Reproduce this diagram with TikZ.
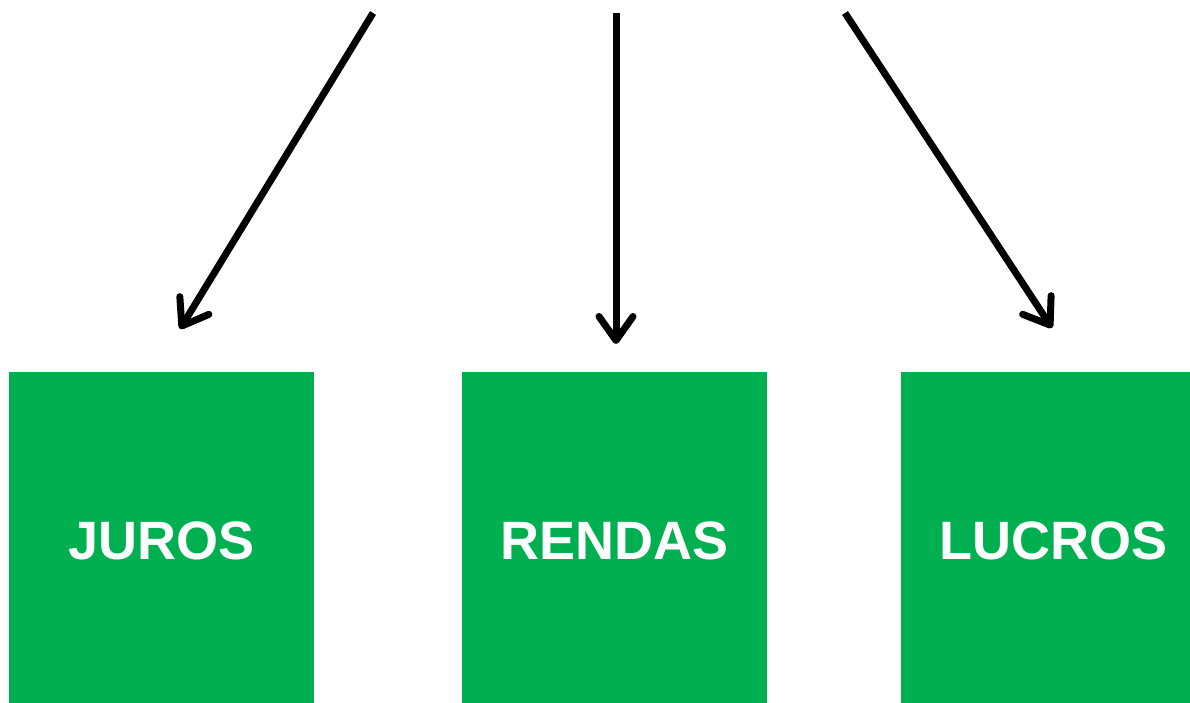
\documentclass[tikz,border=0pt]{standalone}
\usepackage{fontspec}
\setmainfont{Liberation Sans}
\usetikzlibrary{arrows.meta}
\definecolor{boxgreen}{HTML}{00B050}
\begin{document}
\begin{tikzpicture}[x=1pt,y=-1pt,
  box/.style={fill=boxgreen, draw=none, minimum width=305pt, minimum height=338pt, inner sep=0pt,
    text=white, font=\fontsize{54}{60}\selectfont\bfseries},
  arr/.style={line width=7pt, -{Straight Barb[length=24pt, width=34pt, line cap=round, line join=round]}}]
\useasboundingbox (0,0) rectangle (1190,703);
\node[box] (juros) at (161.5,541) {JUROS};
\node[box] (rendas) at (614.5,541) {RENDAS};
\node[box] (lucros) at (1053.5,541) {LUCROS};
\coordinate (s1) at (373,13);
\coordinate (t1) at (180,329);
\coordinate (s2) at (616,13);
\coordinate (t2) at (616,344);
\coordinate (s3) at (845,13);
\coordinate (t3) at (1052,328);
\draw[arr] (s1) -- (t1);
\draw[arr] (s2) -- (t2);
\draw[arr] (s3) -- (t3);
\end{tikzpicture}
\end{document}
